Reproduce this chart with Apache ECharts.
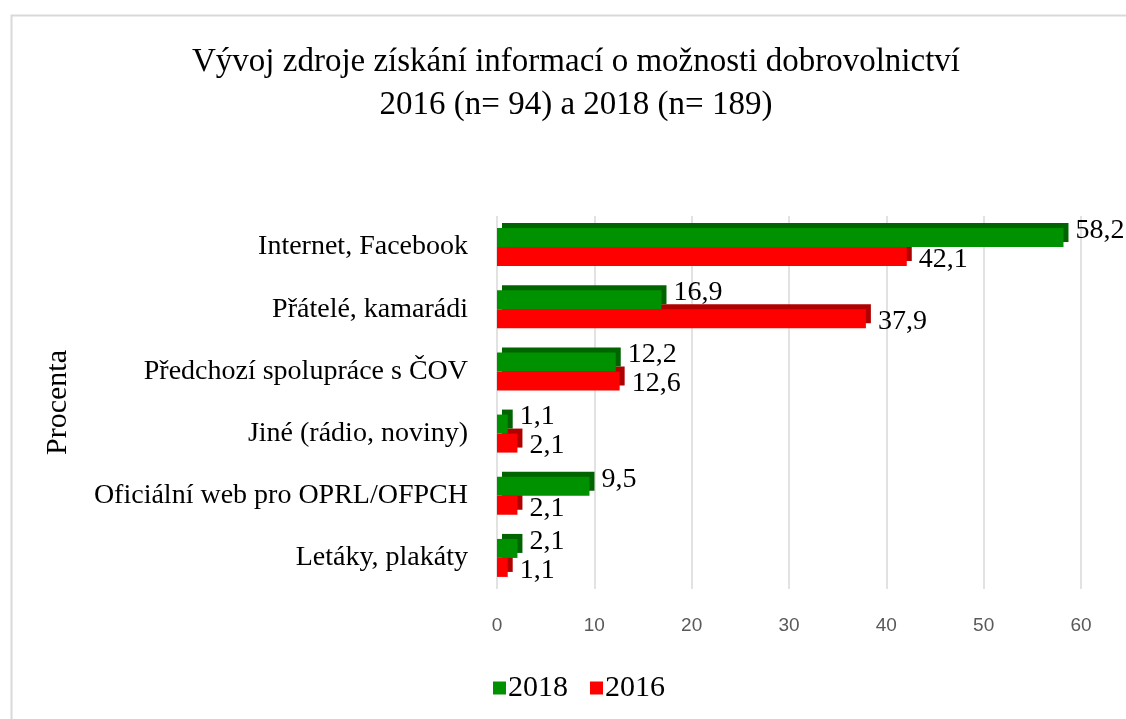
<!DOCTYPE html>
<html>
<head>
<meta charset="utf-8">
<script src="https://cdn.jsdelivr.net/npm/echarts@6/dist/echarts.min.js"></script>
<style>
  html, body { margin: 0; padding: 0; background: #fff; }
  #chart-container { width: 1126px; height: 719px; }
</style>
</head>
<body>
<div id="chart-container"></div>
<script>
// Data
const categories = [
  'Internet, Facebook',
  'Přátelé, kamarádi',
  'Předchozí spolupráce s ČOV',
  'Jiné (rádio, noviny)',
  'Oficiální web pro OPRL/OFPCH',
  'Letáky, plakáty'
];
const values2018 = [58.2, 16.9, 12.2, 1.1, 9.5, 2.1];
const values2016 = [42.1, 37.9, 12.6, 2.1, 2.1, 1.1];
const xTicks = [0, 10, 20, 30, 40, 50, 60];

const chartContainer = document.getElementById('chart-container');
const myChart = echarts.init(chartContainer);

const serif = '"Liberation Serif", "Times New Roman", serif';

// Czech number format for the labels
const fmt = (v) => String(v).replace('.', ',');

const option = {
  backgroundColor: '#ffffff',
  animation: false,
  // outer chart frame
  graphic: [
    {
      type: 'rect',
      left: 9,
      top: 13,
      shape: { width: 1130, height: 720 },
      style: { fill: 'none', stroke: '#d9d9d9', lineWidth: 2 },
      silent: true
    }
  ],
  title: {
    text: 'Vývoj zdroje získání informací o možnosti dobrovolnictví\n2016 (n= 94) a 2018 (n= 189)',
    left: 571,
    textAlign: 'center',
    top: 36,
    textStyle: {
      fontFamily: serif,
      fontWeight: 'normal',
      fontSize: 33,
      lineHeight: 43,
      color: '#000'
    }
  },
  legend: {
    data: ['2018', '2016'],
    left: 488,
    top: 668,
    icon: 'rect',
    itemWidth: 13,
    itemHeight: 13,
    itemGap: 22,
    textStyle: { fontFamily: serif, fontSize: 30, color: '#000', padding: [0, 0, 0, -3] }
  },
  grid: {
    left: 497,
    right: 45,
    top: 216,
    bottom: 130
  },
  xAxis: {
    type: 'value',
    min: 0,
    max: 60,
    interval: 10,
    axisLine: { show: false },
    axisTick: { show: false },
    splitLine: { lineStyle: { color: '#d9d9d9', width: 1.5 } },
    axisLabel: {
      margin: 27,
      fontFamily: '"Liberation Sans", Arial, sans-serif',
      fontSize: 19,
      color: '#595959',
      formatter: (v) => (xTicks.includes(v) ? String(v) : '')
    }
  },
  yAxis: {
    type: 'category',
    inverse: true,
    data: categories,
    name: 'Procenta',
    nameLocation: 'middle',
    nameRotate: 90,
    nameGap: 424,
    nameTextStyle: { fontFamily: serif, fontSize: 30, color: '#000' },
    axisLine: { show: false },
    axisTick: { show: false },
    axisLabel: {
      margin: 29,
      fontFamily: serif,
      fontSize: 28,
      color: '#000'
    }
  },
  series: [
    {
      name: '2018',
      type: 'bar',
      z: 3,
      barWidth: 19,
      barGap: '0%',
      data: values2018,
      itemStyle: {
        color: '#009100',
        shadowColor: '#006400',
        shadowOffsetX: 5,
        shadowOffsetY: -5,
        shadowBlur: 0
      },
      label: {
        show: true,
        position: 'right',
        distance: 12,
        offset: [0, -7],
        fontFamily: serif,
        fontSize: 28,
        color: '#000',
        formatter: (p) => fmt(p.value)
      }
    },
    {
      name: '2016',
      type: 'bar',
      z: 2,
      barWidth: 19,
      data: values2016,
      itemStyle: {
        color: '#ff0000',
        shadowColor: '#b00000',
        shadowOffsetX: 5,
        shadowOffsetY: -5,
        shadowBlur: 0
      },
      label: {
        show: true,
        position: 'right',
        distance: 12,
        offset: [0, 3],
        fontFamily: serif,
        fontSize: 28,
        color: '#000',
        formatter: (p) => fmt(p.value)
      }
    }
  ]
};

myChart.setOption(option);
</script>
</body>
</html>
